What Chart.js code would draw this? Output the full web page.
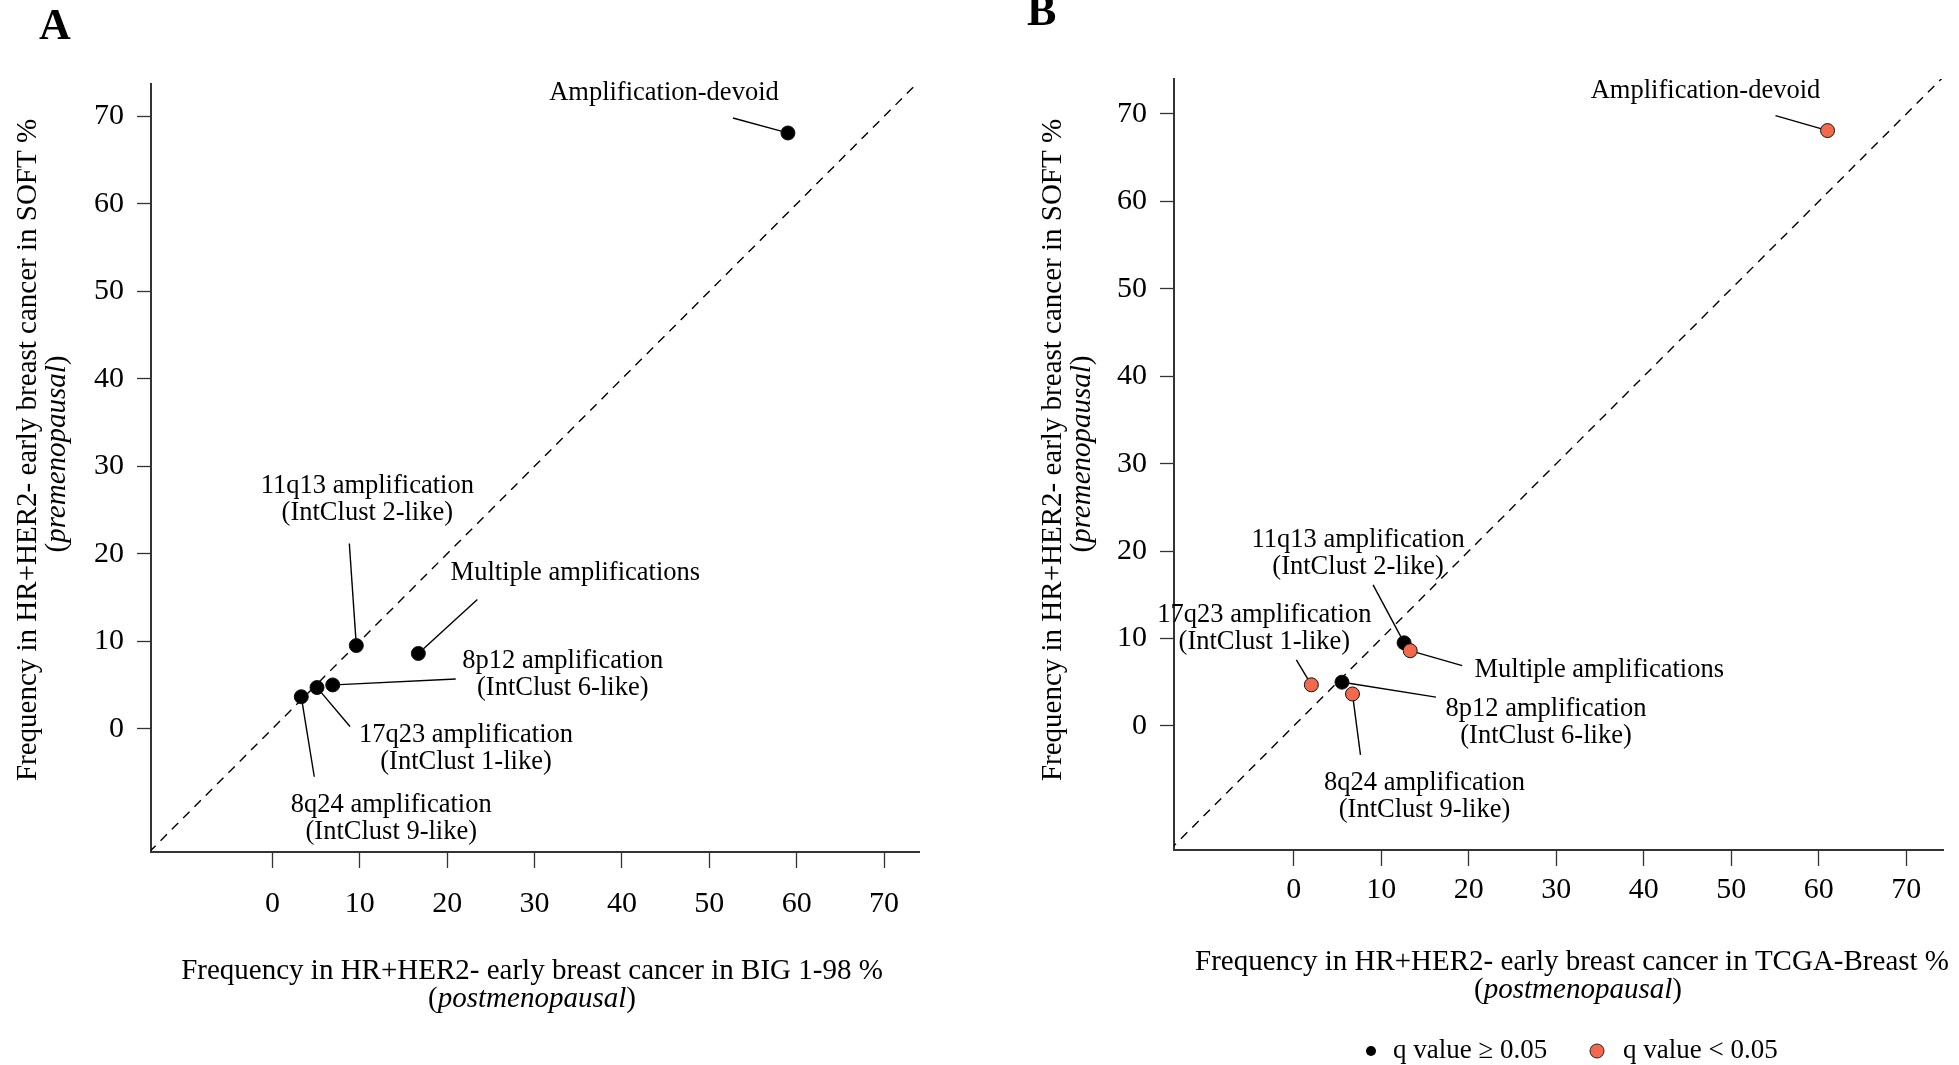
<!DOCTYPE html>
<html><head><meta charset="utf-8">
<script src="https://cdn.jsdelivr.net/npm/chart.js@4.4.1/dist/chart.umd.min.js"></script>
<style>
html,body{margin:0;padding:0;background:#fff;width:1959px;height:1065px;overflow:hidden}
canvas{position:absolute;left:0;top:0}
</style></head><body>
<canvas id="chartA" width="1959" height="1065"></canvas>
<canvas id="chartB" width="1959" height="1065"></canvas>
<script>
// ---------------- data ----------------
const categories = ["Amplification-devoid", "11q13 amplification", "Multiple amplifications",
                    "8p12 amplification", "17q23 amplification", "8q24 amplification"];
const subLabels  = ["", "(IntClust 2-like)", "", "(IntClust 6-like)", "(IntClust 1-like)", "(IntClust 9-like)"];
const softPct    = [68.1, 9.5, 8.6, 5.0, 4.7, 3.65];   // SOFT (premenopausal), y
const big198Pct  = [59.0, 9.6, 16.7, 6.9, 5.1, 3.3];   // BIG 1-98 (postmenopausal), x panel A
const tcgaPct    = [61.0, 12.6, 13.3, 5.5, 2.0, 6.7];  // TCGA-Breast (postmenopausal), x panel B
const qSignificantB = [true, false, true, false, true, true]; // q value < 0.05 in panel B
const tickValues = [0, 10, 20, 30, 40, 50, 60, 70];
const legendLabels = ["q value \u2265 0.05", "q value < 0.05"];

// ---------------- styles ----------------
const SERIF = "'Liberation Serif', 'Times New Roman', Times, serif";
const RED = '#F26A4B';
const BLACK = '#000000';

// label layout (pixel offsets from each point: text centre, leader start)
const layoutA = [
  {t:[-124,-40], s:[-55,-15]},
  {t:[11,-160],  s:[-7,-102]},
  {t:[157,-80],  s:[59,-54]},
  {t:[230,-24],  s:[123,-6]},
  {t:[149,47],   s:[33,39]},
  {t:[90,108],   s:[13,80]}
];
const layoutB = [
  {t:[-122,-40], s:[-52,-15]},
  {t:[-46,-103], s:[-31,-58]},
  {t:[189,19],   s:[52,15]},
  {t:[204,27],   s:[94,15]},
  {t:[-47,-70],  s:[-15,-25]},
  {t:[72,89],    s:[8,61]}
];

function drawMixed(ctx, parts, cx, cy, size) {
  let widths = parts.map(p => { ctx.font = (p[1] ? 'italic ' : '') + size + 'px ' + SERIF; return ctx.measureText(p[0]).width; });
  let total = widths.reduce((a,b)=>a+b,0);
  let x = cx - total/2;
  ctx.textAlign = 'left';
  parts.forEach((p,i) => { ctx.font = (p[1] ? 'italic ' : '') + size + 'px ' + SERIF; ctx.fillText(p[0], x, cy); x += widths[i]; });
}

function makeChart(id, cfg) {
  const pts = cfg.xs.map((x,i)=>({x:x, y:softPct[i]}));
  const overlay = {
    id: 'overlay' + id,
    afterDatasetsDraw(chart) {
      const ctx = chart.ctx, sx = chart.scales.x, sy = chart.scales.y;
      ctx.save();
      ctx.fillStyle = '#000'; ctx.strokeStyle = '#000';
      // annotations
      pts.forEach((p,i) => {
        const px = sx.getPixelForValue(p.x), py = sy.getPixelForValue(p.y);
        const L = cfg.layout[i];
        const x0 = px + L.s[0], y0 = py + L.s[1];
        const dx = px - x0, dy = py - y0, d = Math.hypot(dx,dy);
        const r = 7;
        ctx.lineWidth = 1.4;
        ctx.beginPath(); ctx.moveTo(x0,y0); ctx.lineTo(px - dx/d*r, py - dy/d*r); ctx.stroke();
        ctx.font = '26.5px ' + SERIF; ctx.textAlign = 'center'; ctx.textBaseline = 'middle';
        ctx.fillText(categories[i], px + L.t[0], py + L.t[1]);
        if (subLabels[i]) ctx.fillText(subLabels[i], px + L.t[0], py + L.t[1] + 27);
      });
      // axis titles
      ctx.textBaseline = 'middle'; ctx.textAlign = 'center';
      ctx.font = '29px ' + SERIF;
      ctx.fillText(cfg.xTitle, cfg.xTitlePos[0], cfg.xTitlePos[1]);
      drawMixed(ctx, [['(',false],['postmenopausal',true],[')',false]], cfg.xTitlePos[0] + cfg.x2shift, cfg.xTitlePos[1]+28, 29);
      ctx.save();
      ctx.translate(cfg.yTitlePos[0], cfg.yTitlePos[1]);
      ctx.rotate(-Math.PI/2);
      ctx.font = '29px ' + SERIF; ctx.textAlign = 'center';
      ctx.fillText('Frequency in HR+HER2- early breast cancer in SOFT %', 0, 0);
      drawMixed(ctx, [['(',false],['premenopausal',true],[')',false]], -4, 29, 29);
      ctx.restore();
      // panel letter
      ctx.font = 'bold 44px ' + SERIF; ctx.textAlign = 'left'; ctx.textBaseline = 'alphabetic';
      ctx.fillText(cfg.letter, cfg.letterPos[0], cfg.letterPos[1]);
      // legend
      if (cfg.legend) {
        const ly = 1051;
        ctx.fillStyle = BLACK; ctx.beginPath(); ctx.arc(1371, ly, 5, 0, Math.PI*2); ctx.fill();
        ctx.fillStyle = RED; ctx.strokeStyle = '#222'; ctx.lineWidth = 1;
        ctx.beginPath(); ctx.arc(1597, ly, 7, 0, Math.PI*2); ctx.fill(); ctx.stroke();
        ctx.fillStyle = '#000'; ctx.font = '27px ' + SERIF; ctx.textAlign = 'left'; ctx.textBaseline = 'middle';
        ctx.fillText(legendLabels[0], 1393, ly);
        ctx.fillText(legendLabels[1], 1623, ly);
      }
      ctx.restore();
    }
  };
  return new Chart(document.getElementById(id), {
    type: 'scatter',
    data: { datasets: [
      { type: 'line', data: [{x: cfg.diag[0], y: cfg.diag[0]}, {x: cfg.diag[1], y: cfg.diag[1]}],
        borderColor: '#000', borderWidth: 1.4, borderDash: [9,7], pointRadius: 0, fill: false, order: 2 },
      { data: pts, pointRadius: 7, pointHoverRadius: 7,
        pointBackgroundColor: cfg.colors, pointBorderColor: '#111', pointBorderWidth: 1, order: 1 }
    ]},
    options: {
      responsive: false, animation: false, devicePixelRatio: 1,
      layout: { padding: cfg.padding },
      plugins: { legend: { display: false }, tooltip: { enabled: false } },
      scales: {
        x: { type: 'linear', min: cfg.xr[0], max: cfg.xr[1],
             afterBuildTicks: s => { s.ticks = tickValues.map(v => ({value: v})); },
             afterFit: s => { s.height = cfg.xh; },
             grid: { drawOnChartArea: false, drawTicks: true, tickLength: 16, tickWidth: 1.3, tickColor: '#333' },
             border: { display: true, color: '#333', width: 2 },
             ticks: { font: { family: SERIF, size: 30 }, color: '#000', padding: cfg.xpad, maxRotation: 0, autoSkip: false, callback: v => String(v) } },
        y: { type: 'linear', min: cfg.yr[0], max: cfg.yr[1],
             afterBuildTicks: s => { s.ticks = tickValues.map(v => ({value: v})); },
             afterFit: s => { s.width = cfg.yw; },
             grid: { drawOnChartArea: false, drawTicks: true, tickLength: 14, tickWidth: 1.3, tickColor: '#333' },
             border: { display: true, color: '#333', width: 2 },
             ticks: { font: { family: SERIF, size: 30 }, color: '#000', padding: 13, autoSkip: false, callback: v => String(v) } }
      }
    },
    plugins: [overlay]
  });
}

makeChart('chartA', {
  xs: big198Pct, colors: big198Pct.map(() => BLACK), layout: layoutA,
  xr: [-13.9, 74], yr: [-14.1, 73.7], diag: [-14.1, 74],
  padding: { left: 0, top: 84, right: 1040, bottom: 0 }, xh: 213, yw: 151, xpad: 18,
  xTitle: 'Frequency in HR+HER2- early breast cancer in BIG 1-98 %', xTitlePos: [532, 971], x2shift: 0,
  yTitlePos: [28, 450], letter: 'A', letterPos: [39, 39], legend: false
});
makeChart('chartB', {
  xs: tcgaPct, colors: qSignificantB.map(q => q ? RED : BLACK), layout: layoutB,
  xr: [-13.7, 74.2], yr: [-14.2, 74], diag: [-14.2, 74.2],
  padding: { left: 1000, top: 79, right: 16, bottom: 0 }, xh: 215, yw: 174, xpad: 6,
  xTitle: 'Frequency in HR+HER2- early breast cancer in TCGA-Breast %', xTitlePos: [1572, 962], x2shift: 6,
  yTitlePos: [1053, 450], letter: 'B', letterPos: [1027, 25], legend: true
});
</script>
</body></html>
